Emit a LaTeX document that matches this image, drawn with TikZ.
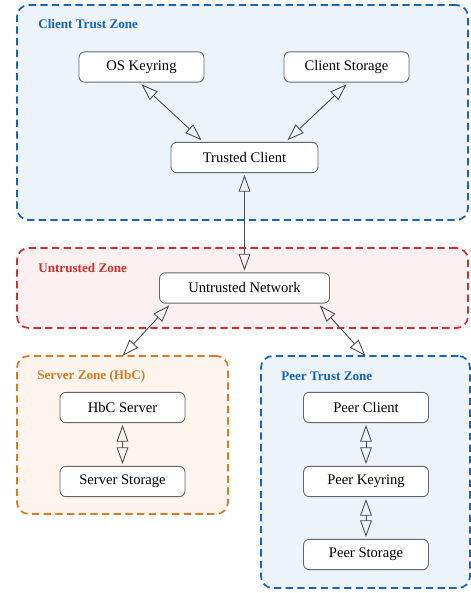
\documentclass[tikz,border=0pt]{standalone}
\usepackage{fontspec}
\setmainfont{Liberation Serif}
\usetikzlibrary{arrows.meta, positioning, calc, fit}

\definecolor{zoneblue}{HTML}{1565C0}
\definecolor{zonered}{HTML}{D32F2F}
\definecolor{zoneorange}{HTML}{DC7A1E}

\begin{document}
\begin{tikzpicture}[
    x=0.685pt, y=0.685pt,
    >={Triangle[open, length=11.5pt, width=8pt]},
    box/.style={draw=black!60, fill=white, rounded corners=4pt, line width=0.6pt,
        minimum width=85.6pt, minimum height=20.8pt, inner xsep=4pt, outer sep=1.5pt},
    zone/.style={draw=#1, fill=#1!8, line width=1.2pt, dash pattern=on 5pt off 3pt,
        rounded corners=8pt, inner sep=0pt, outer sep=0pt},
    zone label/.style={anchor=west, inner sep=0pt, font=\small\bfseries, text=#1},
    link/.style={draw=black!70, line width=0.6pt, <->}
]
    \useasboundingbox (0,0) rectangle (471,593);

    % Trust zones
    \node[zone=zoneblue, fit={(17,588) (468,373)}] (ctz) {};
    \node[zone=zonered, fill=zonered!7, fit={(17,345) (468,265)}] (uz) {};
    \node[zone=zoneorange, fit={(17,237) (228,79)}] (sz) {};
    \node[zone=zoneblue, fit={(261,237) (470,5)}] (ptz) {};

    \node[zone label=zoneblue] (ctzl) at (38,569) {Client Trust Zone};
    \node[zone label=zonered] (uzl) at (38,325) {Untrusted Zone};
    \node[zone label=zoneorange] (szl) at (37,217) {Server Zone (HbC)};
    \node[zone label=zoneblue] (ptzl) at (281,217) {Peer Trust Zone};

    % Components
    \node[box] (ok) at (141.5,526) {OS Keyring};
    \node[box] (cs) at (346.5,526) {Client Storage};
    \node[box, minimum width=100.7pt] (tc) at (244.5,435.5) {Trusted Client};
    \node[box, minimum width=116.5pt] (un) at (244.5,305) {Untrusted Network};
    \node[box] (hs) at (122.5,185.5) {HbC Server};
    \node[box] (ss) at (122.5,111.5) {Server Storage};
    \node[box] (pc) at (366,185.5) {Peer Client};
    \node[box] (pk) at (366,111.5) {Peer Keyring};
    \node[box] (ps) at (366,38.5) {Peer Storage};

    % Links
    \draw[link] (ok.south) -- (tc.158);
    \draw[link] (cs.south) -- (tc.22);
    \draw[link] (tc.south) -- (un.north);
    \draw[link] (un.193) -- (sz.north);
    \draw[link] (un.-13) -- (ptz.north);
    \draw[link] (hs.south) -- (ss.north);
    \draw[link] (pc.south) -- (pk.north);
    \draw[link] (pk.south) -- (ps.north);

\end{tikzpicture}
\end{document}
